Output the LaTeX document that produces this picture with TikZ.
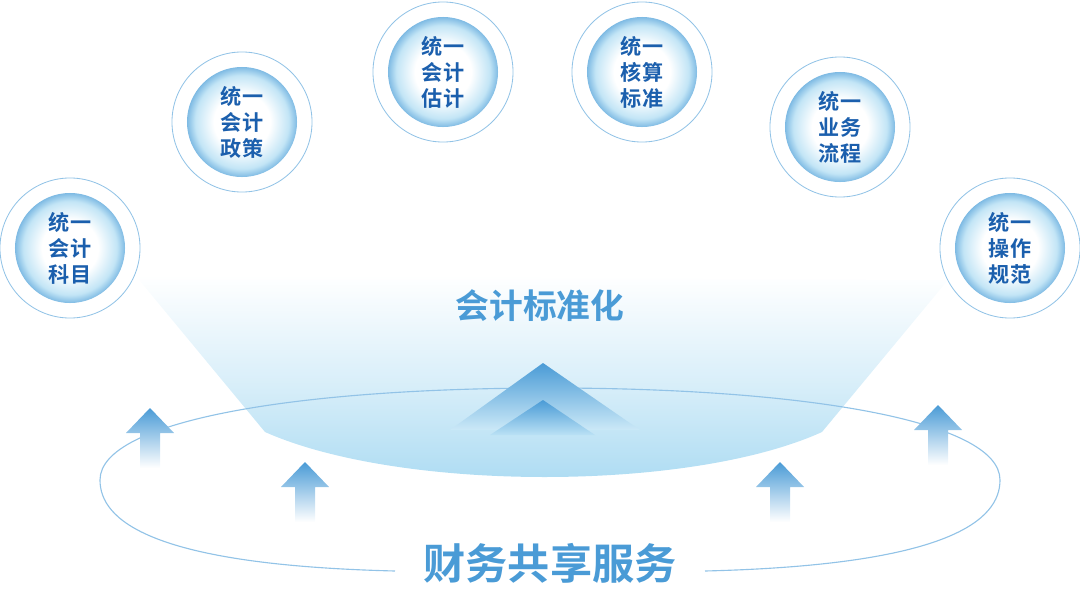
\documentclass[tikz,border=0pt]{standalone}
\usepackage{fontspec}
\newfontfamily\cjk{Noto Sans CJK SC}[BoldFont={Noto Sans CJK SC Bold}]
\usetikzlibrary{shadings}
\definecolor{deepblue}{HTML}{1B5FAD}
\definecolor{midblue}{HTML}{4A9BD6}
\definecolor{paleblue}{HTML}{A9DAF2}
\pgfdeclareradialshading{discshade}{\pgfpoint{0cm}{0cm}}{%
  color(0cm)=(white); color(0.45cm)=(white); color(0.75cm)=(paleblue!70);
  color(0.95cm)=(midblue!90); color(1cm)=(midblue)}
\tikzset{
  ring/.style={circle, minimum size=3.5cm, draw=midblue!60, line width=0.6pt},
  disc/.style={circle, minimum size=2.75cm, inner sep=0pt, shading=discshade,
    font=\cjk\bfseries\fontsize{15}{18.5}\selectfont, text=deepblue, align=center},
  uparrow/.style={top color=midblue, bottom color=white, draw=none},
}
\begin{document}
\begin{tikzpicture}[x=0.025cm, y=-0.025cm]
        \useasboundingbox (0, 0) rectangle (1080, 599);

        % funnel
        \shade[top color=white, bottom color=paleblue, middle color=paleblue!45]
          (135, 275) -- (265, 432) .. controls (400, 492) and (690, 492) .. (822, 432) -- (948, 280) -- cycle;

        % base ellipse
        \draw[midblue!60, line width=0.8pt] (395, 571) .. controls (150, 565) and (100, 520) .. (100, 480)
          .. controls (100, 420) and (300, 388) .. (550, 388)
          .. controls (800, 388) and (1000, 420) .. (1000, 480)
          .. controls (1000, 520) and (950, 565) .. (705, 571);

        % chevrons
        \shade[top color=midblue, bottom color=paleblue!60] (543, 363) -- (640, 430) -- (450, 430) -- cycle;
        \shade[top color=midblue, bottom color=paleblue!80] (543, 400) -- (595, 435) -- (490, 435) -- cycle;

        % arrows
        \foreach \x/\y in {150/408, 305/462, 780/462, 938/405}
          \shade[uparrow] (\x, \y) -- (\x+24, \y+25) -- (\x+10, \y+25) -- (\x+10, \y+60)
            -- (\x-10, \y+60) -- (\x-10, \y+25) -- (\x-24, \y+25) -- cycle;

        \node[font=\cjk\bfseries\fontsize{24}{28}\selectfont, text=midblue] (std) at (540, 306) {会计标准化};
        \node[font=\cjk\bfseries\fontsize{30}{34}\selectfont, text=midblue] (fss) at (550, 563) {财务共享服务};

        \node[ring] (r1) at (70, 248) {};
        \node[ring] (r2) at (242, 122) {};
        \node[ring] (r3) at (443, 72) {};
        \node[ring] (r4) at (642, 72) {};
        \node[ring] (r5) at (840, 127) {};
        \node[ring] (r6) at (1010, 248) {};

        \node[disc] (d1) at (r1) {统一\\会计\\科目};
        \node[disc] (d2) at (r2) {统一\\会计\\政策};
        \node[disc] (d3) at (r3) {统一\\会计\\估计};
        \node[disc] (d4) at (r4) {统一\\核算\\标准};
        \node[disc] (d5) at (r5) {统一\\业务\\流程};
        \node[disc] (d6) at (r6) {统一\\操作\\规范};

    \end{tikzpicture}
\end{document}
